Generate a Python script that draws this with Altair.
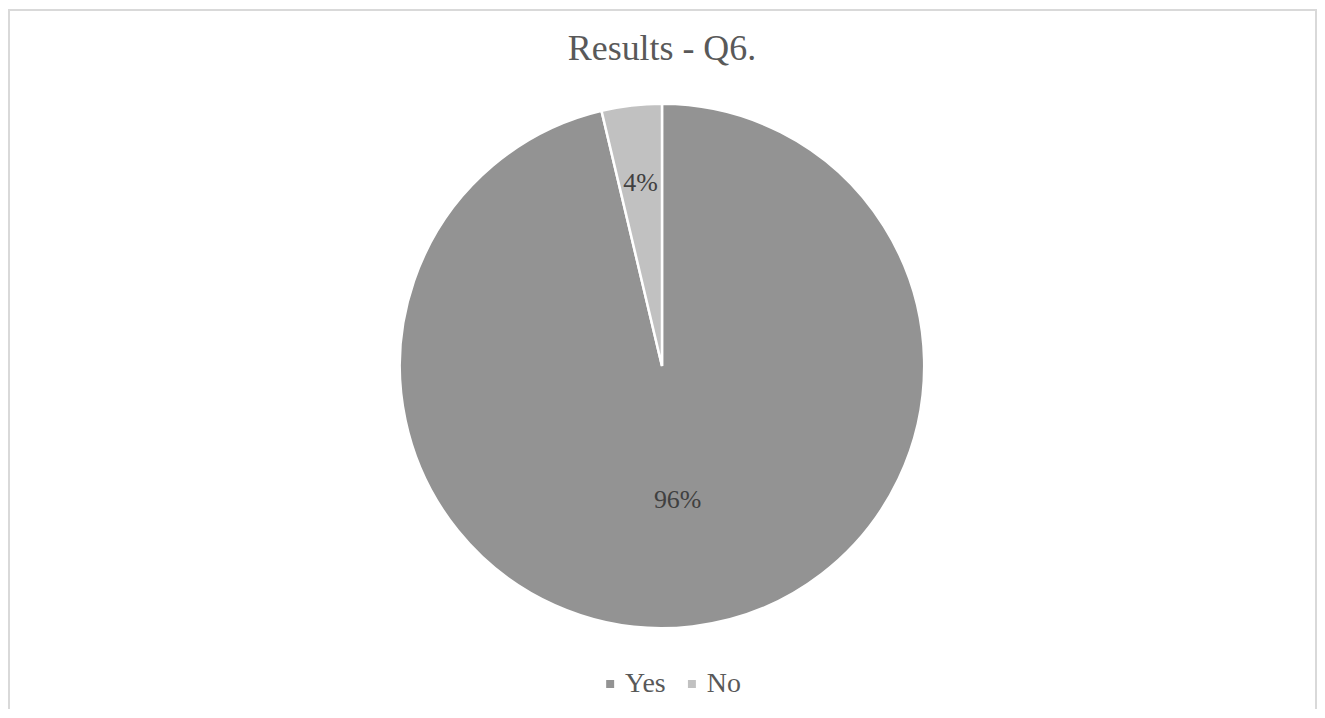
import altair as alt
import pandas as pd

# ---- data ----
categories = ["Yes", "No"]
counts = [26, 1]
pct_labels = ["96%", "4%"]
order_idx = [0, 1]
colors = ["#939393", "#c1c1c1"]
title_text = "Results - Q6."

df = pd.DataFrame({"category": categories, "count": counts,
                   "label": pct_labels, "ord": order_idx})

W, H = 1313, 702
CX, CY, R = 656, 358, 263
FONT = "Liberation Serif"

base = alt.Chart(df)

pie = base.mark_arc(outerRadius=R, stroke="white", strokeWidth=2.5).encode(
    theta=alt.Theta("count:Q", stack=True),
    order=alt.Order("ord:Q"),
    color=alt.Color(
        "category:N",
        scale=alt.Scale(domain=categories, range=colors),
        sort=categories,
        legend=alt.Legend(
            orient="none", legendX=590, legendY=663, direction="horizontal",
            title=None, symbolType="square", symbolSize=64, symbolStrokeWidth=0,
            labelFont=FONT, labelFontSize=28, labelColor="#595959",
            labelOffset=1, columnPadding=12, padding=0,
        ),
    ),
    x=alt.value(CX),
    y=alt.value(CY),
)

def label_layer(cat, radius):
    return base.transform_joinaggregate(
        total="sum(count)"
    ).transform_window(
        cum="sum(count)", sort=[alt.SortField("ord")], frame=[None, 0]
    ).transform_calculate(
        mid="(datum.cum - datum.count / 2) / datum.total"
    ).transform_filter(
        alt.datum.category == cat
    ).mark_text(font=FONT, fontSize=26, color="#404040",
                align="center", baseline="middle").encode(
        theta=alt.Theta("mid:Q", stack=False, scale=alt.Scale(domain=[0, 1])),
        radius=alt.value(radius),
        text="label:N",
        x=alt.value(CX),
        y=alt.value(CY),
    )

lab_yes = label_layer("Yes", 135)
lab_no = label_layer("No", 185)

labels = alt.layer(lab_yes, lab_no).resolve_scale(theta="shared")

title = alt.Chart(alt.Data(values=[{"t": title_text}])).mark_text(
    font=FONT, fontSize=36, color="#595959", align="center", baseline="alphabetic"
).encode(text="t:N", x=alt.value(656), y=alt.value(51))

one = alt.Data(values=[{"k": 1}])
border_col = "#d9d9d9"
left = alt.Chart(one).mark_rule(color=border_col, strokeWidth=2).encode(
    x=alt.value(1), y=alt.value(0), y2=alt.value(H))
right = alt.Chart(one).mark_rule(color=border_col, strokeWidth=2).encode(
    x=alt.value(W - 1), y=alt.value(0), y2=alt.value(H))
top = alt.Chart(one).mark_rule(color=border_col, strokeWidth=2).encode(
    x=alt.value(0), x2=alt.value(W), y=alt.value(1))

chart = alt.layer(pie, labels, title, left, right, top).resolve_scale(
    theta="independent"
).properties(
    width=W, height=H,
    autosize=alt.AutoSizeParams(type="none"),
    padding=0,
    background="white",
).configure_view(stroke=None)

chart.save("out.html", embed_options={"renderer": "svg", "actions": False})
